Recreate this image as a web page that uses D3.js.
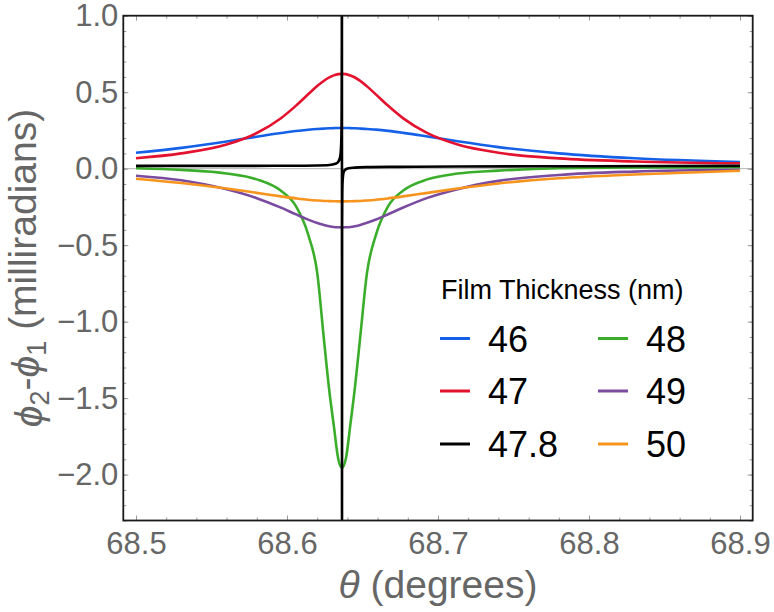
<!DOCTYPE html>
<html><head><meta charset="utf-8">
<script src="https://cdn.jsdelivr.net/npm/d3@7"></script>
<style>
html,body{margin:0;padding:0;background:#fff;}
svg{display:block;font-family:"Liberation Sans",Arial,sans-serif;}
</style></head>
<body>
<svg id="chart" width="774" height="612"></svg>
<script>
// ---- data ----
const theta = [68.500, 68.530, 68.560, 68.580, 68.596, 68.606, 68.614, 68.620, 68.6245, 68.628, 68.631, 68.634, 68.6364,
  68.639, 68.642, 68.645, 68.6485, 68.653, 68.659, 68.667, 68.677, 68.693, 68.713, 68.740, 68.780, 68.830, 68.900];
const t46 = [0.104, 0.136, 0.178, 0.209, 0.233, 0.246, 0.254, 0.259, 0.262, 0.264, 0.265, 0.266, 0.266,
  0.266, 0.265, 0.264, 0.262, 0.259, 0.255, 0.247, 0.234, 0.210, 0.179, 0.141, 0.100, 0.068, 0.044];
const t47 = [0.068, 0.100, 0.158, 0.233, 0.330, 0.412, 0.486, 0.540, 0.575, 0.597, 0.610, 0.618, 0.620,
  0.618, 0.609, 0.596, 0.574, 0.538, 0.484, 0.411, 0.329, 0.232, 0.158, 0.104, 0.067, 0.047, 0.035];
const t48 = [0.003, -0.008, -0.031, -0.070, -0.145, -0.247, -0.430, -0.680, -1.120, -1.450, -1.680, -1.900, -1.956,
  -1.895, -1.670, -1.430, -1.100, -0.680, -0.430, -0.245, -0.143, -0.070, -0.032, -0.013, 0.003, 0.008, 0.010];
const t49 = [-0.046, -0.076, -0.135, -0.193, -0.255, -0.299, -0.333, -0.355, -0.368, -0.376, -0.381, -0.383, -0.384,
  -0.383, -0.381, -0.376, -0.368, -0.354, -0.332, -0.298, -0.254, -0.191, -0.134, -0.080, -0.041, -0.019, -0.007];
const t50 = [-0.066, -0.094, -0.130, -0.158, -0.181, -0.194, -0.203, -0.208, -0.211, -0.212, -0.213, -0.214, -0.214,
  -0.214, -0.213, -0.212, -0.211, -0.208, -0.203, -0.194, -0.181, -0.158, -0.130, -0.097, -0.063, -0.038, -0.014];
const thetaBlack = [68.500, 68.560, 68.600, 68.620, 68.628, 68.632, 68.634, 68.635, 68.6355, 68.6360, 68.6362, 68.6363, 68.63637,
  68.63643, 68.6365, 68.6366, 68.6368, 68.6373, 68.6378, 68.6388, 68.6408, 68.6448, 68.6528, 68.6728, 68.7128, 68.800, 68.900];
const t478 = [0.018, 0.018, 0.019, 0.021, 0.024, 0.032, 0.046, 0.069, 0.098, 0.20, 0.39, 0.77, 2.6,
  -2.6, -0.39, -0.19, -0.088, -0.032, -0.017, -0.005, 0.003, 0.007, 0.010, 0.012, 0.014, 0.016, 0.018];

const seriesLabels = ["46", "47", "47.8", "48", "49", "50"];
const seriesColors = ["#1560e8", "#e3122f", "#000000", "#3aae2b", "#7a4b9e", "#f7941e"];
const xTicks = [68.5, 68.6, 68.7, 68.8, 68.9];
const yTicks = [-2.0, -1.5, -1.0, -0.5, 0.0, 0.5, 1.0];
const legendTitle = "Film Thickness (nm)";

// ---- layout ----
const svg = d3.select("#chart");
const L = 123.3, R = 752.7, T = 15.7, B = 520.5;
const x = d3.scaleLinear().domain([68.4916, 68.9084]).range([L, R]);
const y = d3.scaleLinear().domain([-2.3, 1.0]).range([B, T]);

svg.append("defs").append("clipPath").attr("id", "clip")
  .append("rect").attr("x", L).attr("y", T).attr("width", R - L).attr("height", B - T);

// zero line
svg.append("line").attr("x1", L).attr("x2", R).attr("y1", y(0)).attr("y2", y(0))
  .attr("stroke", "#b4b4b4").attr("stroke-width", 1);

// curves
const series = [
  {th: theta, v: t46}, {th: theta, v: t47}, {th: thetaBlack, v: t478},
  {th: theta, v: t48}, {th: theta, v: t49}, {th: theta, v: t50}
];
const line = d3.line().x(d => x(d[0])).y(d => y(d[1])).curve(d3.curveMonotoneX);
const g = svg.append("g").attr("clip-path", "url(#clip)");
const drawOrder = [0, 1, 3, 4, 5, 2];
drawOrder.forEach(i => {
  const s = series[i];
  g.append("path").datum(s.th.map((t, j) => [t, s.v[j]]))
    .attr("d", line).attr("fill", "none")
    .attr("stroke", seriesColors[i]).attr("stroke-width", 2.6)
    .attr("stroke-linejoin", "round");
});

// axes / ticks
const tickCol = "#9a9a9a", labCol = "#666666";
function styleAxis(sel, fs) {
  sel.select(".domain").remove();
  sel.selectAll(".tick line").attr("stroke", tickCol).attr("stroke-width", 1);
  sel.selectAll(".tick text").attr("fill", labCol).style("font-size", fs + "px")
    .style("font-family", '"Liberation Sans",Arial,sans-serif');
}
const xMinor = d3.range(68.5, 68.9001, 0.02);
const yMinor = d3.range(-2.3, 1.0001, 0.1).map(v => Math.round(v * 10) / 10);

// bottom
svg.append("g").attr("transform", `translate(0,${B})`)
  .call(d3.axisBottom(x).tickValues(xMinor).tickSizeInner(-3).tickSizeOuter(0).tickFormat(""))
  .call(s => styleAxis(s, 0));
svg.append("g").attr("transform", `translate(0,${B})`)
  .call(d3.axisBottom(x).tickValues(xTicks).tickSizeInner(-5).tickSizeOuter(0).tickPadding(11).tickFormat(d3.format(".1f")))
  .call(s => styleAxis(s, 31));
// top
svg.append("g").attr("transform", `translate(0,${T})`)
  .call(d3.axisTop(x).tickValues(xMinor).tickSizeInner(-3).tickSizeOuter(0).tickFormat(""))
  .call(s => styleAxis(s, 0));
svg.append("g").attr("transform", `translate(0,${T})`)
  .call(d3.axisTop(x).tickValues(xTicks).tickSizeInner(-5).tickSizeOuter(0).tickFormat(""))
  .call(s => styleAxis(s, 0));
// left
svg.append("g").attr("transform", `translate(${L},0)`)
  .call(d3.axisLeft(y).tickValues(yMinor).tickSizeInner(-3).tickSizeOuter(0).tickFormat(""))
  .call(s => styleAxis(s, 0));
svg.append("g").attr("transform", `translate(${L},0)`)
  .call(d3.axisLeft(y).tickValues(yTicks).tickSizeInner(-5).tickSizeOuter(0).tickPadding(5).tickFormat(d3.format(".1f")))
  .call(s => styleAxis(s, 31));
// right
svg.append("g").attr("transform", `translate(${R},0)`)
  .call(d3.axisRight(y).tickValues(yMinor).tickSizeInner(-3).tickSizeOuter(0).tickFormat(""))
  .call(s => styleAxis(s, 0));
svg.append("g").attr("transform", `translate(${R},0)`)
  .call(d3.axisRight(y).tickValues(yTicks).tickSizeInner(-5).tickSizeOuter(0).tickFormat(""))
  .call(s => styleAxis(s, 0));

// frame
svg.append("rect").attr("x", L).attr("y", T).attr("width", R - L).attr("height", B - T)
  .attr("fill", "none").attr("stroke", "#1a1a1a").attr("stroke-width", 1.8);

// axis titles
const xt = svg.append("text").attr("x", (L + R) / 2).attr("y", 598).attr("text-anchor", "middle")
  .attr("fill", labCol).style("font-size", "39px");
xt.append("tspan").attr("font-style", "italic").text("θ");
xt.append("tspan").text(" (degrees)");

const yt = svg.append("text").attr("transform", "translate(42,268) rotate(-90)").attr("text-anchor", "middle")
  .attr("fill", labCol).style("font-size", "39px");
yt.append("tspan").attr("font-style", "italic").text("ϕ");
yt.append("tspan").attr("dy", "0.25em").style("font-size", "27px").text("2");
yt.append("tspan").attr("dy", "-0.25em").text("-");
yt.append("tspan").attr("font-style", "italic").text("ϕ");
yt.append("tspan").attr("dy", "0.25em").style("font-size", "27px").text("1");
yt.append("tspan").attr("dy", "-0.25em").text(" (milliradians)");

// legend
svg.append("text").attr("x", 441).attr("y", 299).attr("fill", "#000").style("font-size", "27px").text(legendTitle);
const legRowY = [338.5, 391, 444];
const legCols = [{lx: 440, tx: 488}, {lx: 598, tx: 646}];
const legendOrder = [[0, 0, 0], [1, 0, 1], [2, 0, 2], [3, 1, 0], [4, 1, 1], [5, 1, 2]];
legendOrder.forEach(([i, c, r]) => {
  const col = legCols[c], yy = legRowY[r];
  svg.append("line").attr("x1", col.lx).attr("x2", col.lx + 30).attr("y1", yy).attr("y2", yy)
    .attr("stroke", seriesColors[i]).attr("stroke-width", 3);
  svg.append("text").attr("x", col.tx).attr("y", yy + 13).attr("fill", "#000")
    .style("font-size", "36px").text(seriesLabels[i]);
});
</script>
</body></html>
